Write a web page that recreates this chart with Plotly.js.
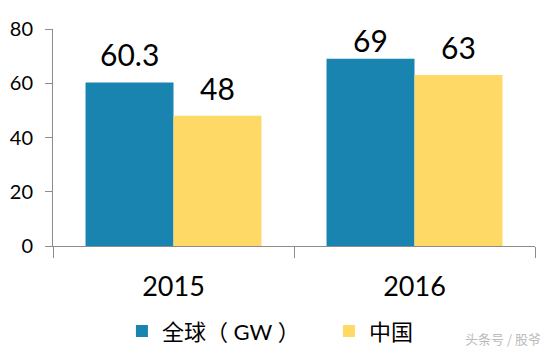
<!DOCTYPE html>
<html>
<head>
<meta charset="utf-8">
<script src="https://cdn.plot.ly/plotly-3.0.1.min.js"></script>
<style>html,body{margin:0;padding:0;background:#fff;}#chart{width:550px;height:353px;}</style>
</head>
<body>
<div id="chart"></div>
<script>
const categories = ['2015', '2016'];
const globalValues = [60.3, 69];
const chinaValues = [48, 63];
const seriesNames = ['全球（ GW ）', '中国'];
const yTicks = [0, 20, 40, 60, 80];
const watermark = '头条号 / 股爷';

const FONT = 'Lato, "Noto Sans CJK SC", "DejaVu Sans", sans-serif';
const BLUE = '#1a84b0';
const YELLOW = '#ffd966';
const BARGAP = 0.27;
const LABEL_CAP = 65.7; // keep labels inside the chart top

const traces = [
  {type: 'bar', name: seriesNames[0], x: categories, y: globalValues, marker: {color: BLUE}, hoverinfo: 'none'},
  {type: 'bar', name: seriesNames[1], x: categories, y: chinaValues, marker: {color: YELLOW}, hoverinfo: 'none'}
];

const half = (1 - BARGAP) / 4;
const annotations = [];
[globalValues, chinaValues].forEach((vals, s) => {
  vals.forEach((v, i) => {
    annotations.push({
      x: i + (s === 0 ? -half : half), y: Math.min(v, LABEL_CAP), xref: 'x', yref: 'y',
      text: String(v), showarrow: false, yanchor: 'bottom', yshift: 8,
      font: {family: FONT, size: 30, color: '#000'}
    });
  });
});
annotations.push({
  x: 1, y: 0, xref: 'paper', yref: 'paper', xanchor: 'right', yanchor: 'bottom',
  xshift: 8, yshift: -104, text: watermark, showarrow: false,
  font: {family: '"Noto Sans CJK SC", sans-serif', size: 13, color: '#bbbbbb'}
});

const layout = {
  width: 550, height: 353,
  margin: {l: 53, r: 15, t: 29, b: 107, autoexpand: false},
  paper_bgcolor: '#fff', plot_bgcolor: '#fff',
  barmode: 'group', bargap: BARGAP, bargroupgap: 0,
  showlegend: true,
  legend: {
    orientation: 'h', x: 0.143, xanchor: 'left', y: -0.296, yanchor: 'top',
    font: {family: FONT, size: 22, color: '#000'},
    itemwidth: 30, entrywidth: 162, traceorder: 'normal', itemclick: false
  },
  xaxis: {
    type: 'category', showline: true, linecolor: '#8c8c8c', linewidth: 1,
    ticks: 'outside', tickson: 'boundaries', ticklen: 11, tickcolor: '#8c8c8c',
    tickfont: {family: FONT, size: 27, color: '#000'}, ticklabelstandoff: 17,
    showgrid: false, zeroline: false, fixedrange: true
  },
  yaxis: {
    range: [0, 80], tickvals: yTicks, ticktext: yTicks.map(String),
    showline: true, linecolor: '#8c8c8c', linewidth: 1,
    ticks: 'outside', ticklen: 7, tickcolor: '#8c8c8c',
    tickfont: {family: FONT, size: 20, color: '#000'}, ticklabelstandoff: 8,
    showgrid: false, zeroline: false, fixedrange: true
  },
  annotations: annotations
};

Plotly.newPlot('chart', traces, layout, {displayModeBar: false, staticPlot: true});
</script>
</body>
</html>
